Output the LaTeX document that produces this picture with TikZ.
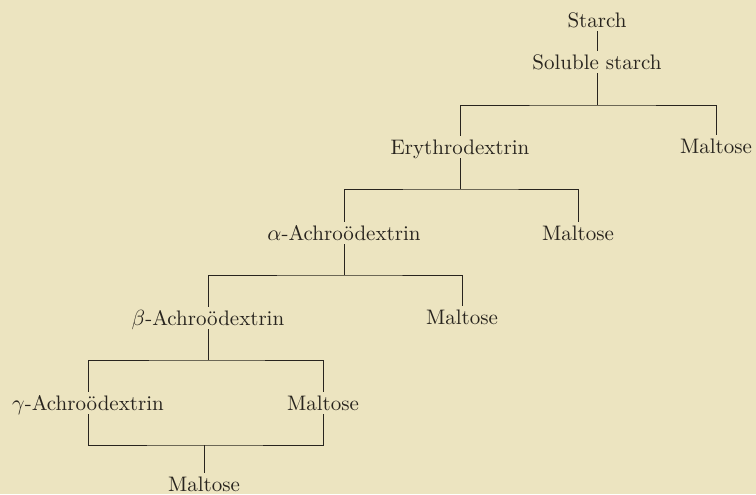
\documentclass[tikz,border=0pt]{standalone}
\usepackage{fontspec}
\definecolor{paper}{RGB}{236,228,192}
\definecolor{ink}{RGB}{40,36,30}
\tikzset{
    sugar/.style={inner sep=0pt, outer sep=2pt, text height=7.2pt, text depth=0pt, text=ink, font=\fontsize{10.5}{12}\selectfont},
    split/.style={draw=ink, line width=0.45pt}
}
\begin{document}
\begin{tikzpicture}[x=0.5pt,y=-0.5pt]
    % Fond et cadre
    \fill[paper] (0,0) rectangle (756,494);
    \useasboundingbox (0,0) rectangle (756,494);

    % Produits de l'hydrolyse
    \node[sugar] (starch) at (597,20) {Starch};
    \node[sugar] (soluble) at (597,62) {Soluble starch};
    \node[sugar] (erythro) at (460,147) {Erythrodextrin};
    \node[sugar] (maltA) at (716,146) {Maltose};
    \node[sugar] (alpha) at (344,233) {$\alpha$-Achroödextrin};
    \node[sugar] (maltB) at (578,233) {Maltose};
    \node[sugar] (beta) at (208,318) {$\beta$-Achroödextrin};
    \node[sugar] (maltC) at (462,317) {Maltose};
    \node[sugar] (gamma) at (88,403) {$\gamma$-Achroödextrin};
    \node[sugar] (maltD) at (323,403) {Maltose};
    \node[sugar] (maltE) at (204,484) {Maltose};

    % Points de jonction
    \coordinate (j1) at (597,105);
    \coordinate (j2) at (460,189);
    \coordinate (j3) at (344,275);
    \coordinate (j4) at (208,360);
    \coordinate (j5) at (204,445);

    % Branches
    \draw[split] (starch.south) -- (soluble.north);
    \draw[split] (soluble.south) -- (j1);
    \draw[split] (erythro.north) |- (j1) -| (maltA.north);
    \draw[split] (erythro.south) -- (j2);
    \draw[split] (alpha.north) |- (j2) -| (maltB.north);
    \draw[split] (alpha.south) -- (j3);
    \draw[split] (beta.north) |- (j3) -| (maltC.north);
    \draw[split] (beta.south) -- (j4);
    \draw[split] (gamma.north) |- (j4) -| (maltD.north);
    \draw[split] (gamma.south) |- (j5) -| (maltD.south);
    \draw[split] (j5) -- (maltE.north);
\end{tikzpicture}
\end{document}
